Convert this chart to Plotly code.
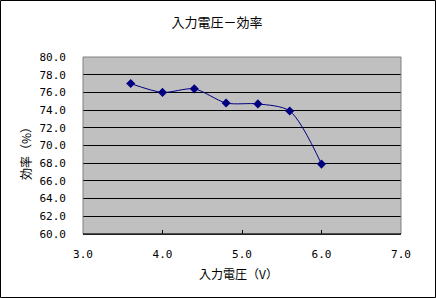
import plotly.graph_objects as go

voltage = [3.6, 4.0, 4.4, 4.8, 5.2, 5.6, 6.0]
efficiency = [77.0, 76.0, 76.4, 74.8, 74.7, 73.9, 67.9]

W, H = 436, 298
L, R, T, B = 83, 35, 57, 64
pw, ph = W - L - R, H - T - B

fig = go.Figure()
fig.add_trace(go.Scatter(
    x=voltage, y=efficiency, mode="lines+markers",
    line=dict(color="#000080", width=1, shape="spline", smoothing=0.8),
    marker=dict(symbol="diamond", size=7, color="#000080"),
    showlegend=False,
))

mono = "DejaVu Sans Mono, monospace"
cjk = "Noto Sans CJK JP, sans-serif"

fig.update_layout(
    width=W, height=H,
    margin=dict(l=L, r=R, t=T, b=B),
    paper_bgcolor="white", plot_bgcolor="#C0C0C0",
    title=dict(text="入力電圧－効率", x=(217) / W, xanchor="center",
               y=1 - 22 / H, yanchor="middle", yref="container",
               font=dict(family=cjk, size=13, color="black")),
    xaxis=dict(range=[3, 7], tickvals=[3, 4, 5, 6, 7], tickformat=".1f",
               showgrid=False, zeroline=False,
               showline=True, linecolor="black", linewidth=1,
               ticks="inside", ticklen=4, tickcolor="black",
               tickfont=dict(family=mono, size=11, color="black"),
               ticklabelstandoff=10),
    yaxis=dict(range=[60, 80], dtick=2, tickformat=".1f",
               showgrid=True, gridcolor="black", gridwidth=1,
               zeroline=False, showline=False, ticks="",
               tickfont=dict(family=mono, size=11, color="black"),
               ticklabelstandoff=16),
    annotations=[
        dict(text="入力電圧（V）", xref="paper", yref="paper",
             x=(238 - L) / pw, y=(T + ph - 273) / ph,
             xanchor="center", yanchor="middle", showarrow=False,
             font=dict(family=cjk, size=12, color="black")),
        dict(text="効率（%）", xref="paper", yref="paper",
             x=(25 - L) / pw, y=(T + ph - 151) / ph, textangle=-90,
             xanchor="center", yanchor="middle", showarrow=False,
             font=dict(family=cjk, size=12, color="black")),
    ],
    shapes=[
        dict(type="rect", xref="paper", yref="paper",
             x0=0, x1=1, y0=0, y1=1,
             line=dict(color="#808080", width=1), layer="above"),
        dict(type="line", xref="paper", yref="paper",
             x0=0, x1=1, y0=0, y1=0,
             line=dict(color="black", width=1), layer="above"),
        dict(type="rect", xref="paper", yref="paper",
             x0=(0.5 - L) / pw, x1=(W - 0.5 - L) / pw,
             y0=(T + ph - (H - 0.5)) / ph, y1=(T + ph - 0.5) / ph,
             line=dict(color="black", width=1), layer="above"),
    ],
)

fig.write_html("out.html")
